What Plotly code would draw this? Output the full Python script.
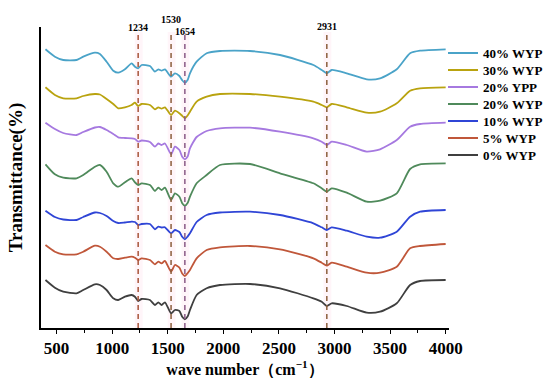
import plotly.graph_objects as go

# wave numbers (cm-1) sampled along the spectra
wavenumber = [400, 485, 560, 680, 740, 845, 890, 950, 1010, 1055, 1115, 1175, 1205, 1234, 1265,
              1340, 1385, 1415, 1445, 1475, 1530, 1565, 1605, 1630, 1654, 1680, 1700, 1760, 1850, 1970, 2240,
              2510, 2810, 2885, 2931, 2975, 3110, 3290, 3410, 3560, 3680, 3770, 4000]

# offset transmittance traces (arbitrary units)
wyp_40 = [278.7, 271.3, 268, 268, 271.3, 275.3, 274, 266.3, 257.3, 255.3, 258.7, 264.7, 261.3, 259.7, 263,
          262, 256.3, 258.7, 257.3, 258.7, 251.3, 254.7, 252, 247.8, 245.3, 248.3, 254.7, 266.3, 274.7, 277, 277,
          273, 263, 258, 254.7, 258, 254.7, 248.7, 249.7, 258.7, 274.7, 277.3, 278.7]
wyp_30 = [240.7, 233, 229.7, 229.7, 232, 234, 233.5, 229, 224, 219.7, 220.7, 223, 225.3, 222, 224,
          223, 218.7, 220.7, 219.3, 220.7, 213, 217.3, 214.7, 212.2, 209.7, 212.7, 216.3, 226.3, 231.3, 234, 234,
          231.3, 226.3, 223, 220.7, 224, 220.7, 215.3, 216.3, 224.7, 237.3, 239.7, 240.7]
ypp_20 = [205.3, 199, 195, 193, 196, 200.5, 201, 198, 194, 190.7, 190, 189.7, 189, 186.3, 187.5,
          186, 181.3, 184.5, 183, 184.5, 173.7, 181.3, 178, 171.2, 168.7, 171.7, 179.7, 191, 197, 199.7, 200.3,
          196.3, 189.7, 186.3, 183, 186.3, 183, 176.3, 178.7, 188, 201.3, 204, 205.3]
wyp_20 = [163.7, 153.7, 150.3, 149.7, 153, 161.3, 163, 156.3, 144.7, 141.3, 145.7, 149.7, 145.7, 143, 144.7,
          143, 137, 140.3, 138, 140.3, 128, 134.7, 131.3, 124.8, 122.3, 125.3, 131.3, 144.7, 153, 163, 164,
          154.7, 144.7, 139.7, 136.3, 139.7, 135.3, 126.3, 127.3, 134.7, 159, 163.7, 164.7]
wyp_10 = [117.3, 111, 108.5, 108, 111, 115.5, 115, 112, 107, 105, 105.5, 106.3, 106, 103, 104,
          104, 98.7, 101.3, 100.5, 100.7, 94.7, 98, 96, 91.2, 88.7, 91.7, 94.7, 106, 113, 115.5, 116.3,
          113, 104.7, 100.7, 98, 100.7, 97.3, 91.3, 90.3, 96.3, 111.3, 116.3, 118]
wyp_5 = [83, 76.3, 73.7, 73.7, 76.3, 82.3, 81.3, 76.3, 69.7, 69, 70.3, 71.3, 70.3, 68, 69.7,
         68, 63.7, 66.3, 64.7, 67, 56.3, 63, 60.3, 54.5, 52, 55, 58, 69.7, 78, 80.7, 82,
         78.7, 69.7, 65.3, 62.3, 65.3, 61.3, 55.3, 55.3, 61.3, 79.7, 82, 84]
wyp_0 = [48, 40.3, 36.3, 34.7, 38, 43.7, 43, 38, 29.7, 28, 31.3, 33, 31.3, 27, 29,
         28, 23, 25.7, 23, 25.7, 14.7, 18, 17, 11.2, 8.7, 11.7, 18, 33, 39.7, 43, 44,
         39.7, 29.7, 26.3, 22, 24.7, 22, 15.3, 16.3, 24.7, 43, 47, 48]

series_names = ["40% WYP", "30% WYP", "20% YPP", "20% WYP", "10% WYP", "5% WYP", "0% WYP"]
series_values = [wyp_40, wyp_30, ypp_20, wyp_20, wyp_10, wyp_5, wyp_0]
series_colors = ["#4aa3c8", "#b9a30f", "#a679e0", "#4f8a5b", "#2f45d6", "#c0573a", "#3f3f3f"]

peak_positions = [1234, 1530, 1654, 2931]
peak_colors = ["#a8553a", "#8c5e3c", "#8a5a86", "#8c5e3c"]
peak_label_y = [1.023, 1.050, 1.010, 1.027]

tick_vals = [500, 1000, 1500, 2000, 2500, 3000, 3500, 4000]

SERIF = "Liberation Serif, Times New Roman, serif"

fig = go.Figure()
for name, vals, col in zip(series_names, series_values, series_colors):
    fig.add_trace(go.Scatter(x=wavenumber, y=vals, name=name, mode="lines", showlegend=False,
                             line=dict(color=col, width=1.8, shape="spline", smoothing=0.6)))

for pos, col, ly in zip(peak_positions, peak_colors, peak_label_y):
    fig.add_shape(type="rect", xref="x", yref="y", x0=pos - 30, x1=pos + 40, y0=0, y1=296,
                  fillcolor="rgba(255,200,220,0.18)", line_width=0, layer="below")
    fig.add_shape(type="line", xref="x", yref="y", x0=pos, x1=pos, y0=0, y1=296,
                  line=dict(color=col, width=1.5, dash="5px,4px"))
    fig.add_annotation(x=pos, y=ly, xref="x", yref="paper", text=f"<b>{pos}</b>",
                       showarrow=False, font=dict(family=SERIF, size=10, color="black"))

# legend drawn at the right of the plot (plot area spans 41..449 px wide, 27..328 px tall)
PLOT_W, PLOT_H = 408.0, 301.0
for i, (name, col) in enumerate(zip(series_names, series_colors)):
    row_y = (328 - (53 + 17 * i)) / PLOT_H
    fig.add_shape(type="line", xref="paper", yref="paper",
                  x0=(448 - 41) / PLOT_W, x1=(478 - 41) / PLOT_W, y0=row_y, y1=row_y,
                  line=dict(color=col, width=2))
    fig.add_annotation(x=(481 - 41) / PLOT_W, y=row_y, xref="paper", yref="paper",
                       xanchor="left", yanchor="middle", showarrow=False, text=f"<b>{name}</b>",
                       font=dict(family=SERIF, size=13, color="black"))

fig.update_layout(
    width=550, height=384,
    margin=dict(l=41, r=101, t=27, b=56, autoexpand=False),
    paper_bgcolor="white", plot_bgcolor="white",
    showlegend=False,
    xaxis=dict(range=[360, 4030], tickvals=tick_vals, ticktext=[f"<b>{v}</b>" for v in tick_vals],
               automargin=False,
               showline=True, linecolor="black", linewidth=1.5, ticks="outside", ticklen=4,
               tickcolor="black", tickwidth=1.2,
               minor=dict(tickvals=[750, 1250, 1750, 2250, 2750, 3250, 3750], ticks="outside",
                          ticklen=3, tickcolor="black"),
               tickfont=dict(family=SERIF, size=17, color="black"),
               showgrid=False, zeroline=False,
               title=dict(text="<b>wave number（cm<sup>−1</sup>）</b>", standoff=1,
                          font=dict(family=SERIF, size=16, color="black"))),
    yaxis=dict(range=[0, 301], showline=True, linecolor="black", linewidth=1.5,
               automargin=False,
               showticklabels=False, ticks="", showgrid=False, zeroline=False,
               title=dict(text="<b>Transmittance(%)</b>", standoff=12,
                          font=dict(family=SERIF, size=19, color="black"))),
)

fig.write_html("out.html", config={"displayModeBar": False},
               post_script="document.body.style.margin='0';document.body.style.overflow='hidden';")
